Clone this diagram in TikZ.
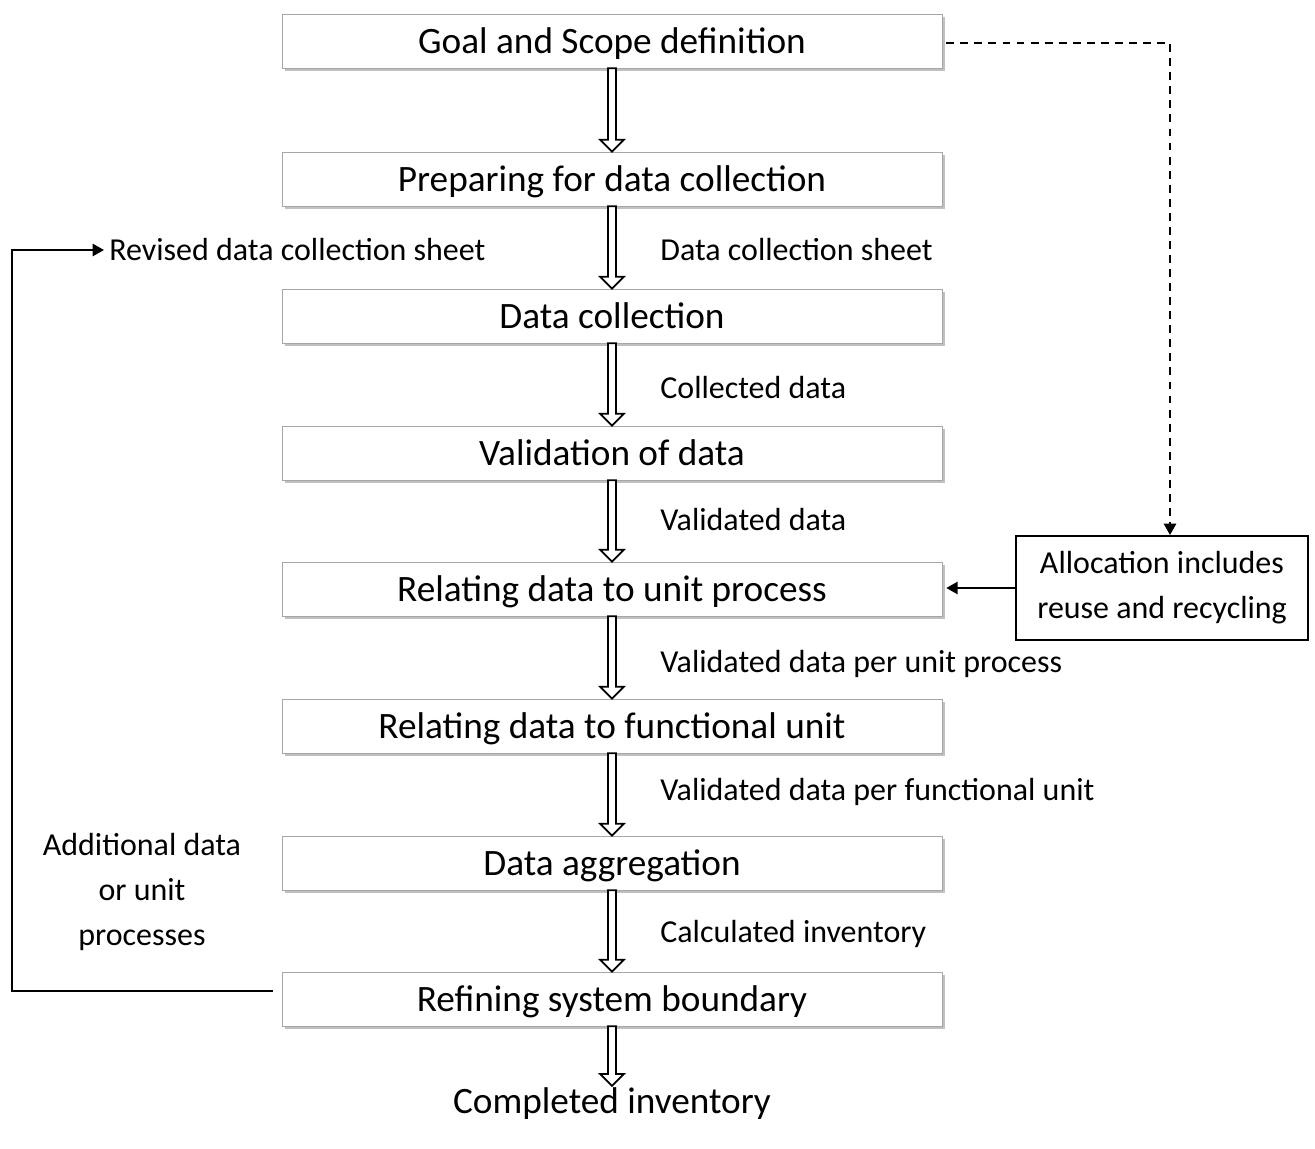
\documentclass[tikz,border=0pt]{standalone}
\usepackage{fontspec}
\setmainfont{Carlito}
\usetikzlibrary{calc,positioning,shadows,arrows.meta}

\begin{document}
\begin{tikzpicture}[x=0.02cm,y=-0.02cm,
  stage/.style={draw=black!35, fill=white, minimum width=13.2cm, minimum height=1.08cm,
    inner sep=0pt, text height=18pt, text depth=3.8pt, font=\fontsize{21.2}{24}\selectfont,
    drop shadow={shadow xshift=1.5pt, shadow yshift=-1.8pt, opacity=.45, fill=black!55}},
  note/.style={inner sep=0pt, font=\fontsize{18.2}{25.5}\selectfont},
  hollow/.style={line width=1pt, fill=white, line join=miter},
  line/.style={line width=1.1pt, -{Triangle[length=6.5pt,width=7pt]}}]
\useasboundingbox (0,0) rectangle (1315,1149);

% main chain
\node [stage] (goal)    at (612,41)  {Goal and Scope definition};
\node [stage] (prep)    at (612,179) {Preparing for data collection};
\node [stage] (collect) at (612,316) {Data collection};
\node [stage] (valid)   at (612,453) {Validation of data};
\node [stage] (relunit) at (612,589) {Relating data to unit process};
\node [stage] (relfunc) at (612,726) {Relating data to functional unit};
\node [stage] (aggr)    at (612,863) {Data aggregation};
\node [stage] (refine)  at (612,999) {Refining system boundary};
\node [inner sep=1pt, font=\fontsize{21.2}{24}\selectfont] (done) at (612,1104) {Completed inventory};

% hollow arrows
\foreach \a/\b in {goal/prep,prep/collect,collect/valid,valid/relunit,relunit/relfunc,relfunc/aggr,aggr/refine,refine/done}
  \draw [hollow] ($(\a.south)+(-4,0)$) -- ($(\b.north)+(-4,-12)$) -- ++(-8,0) -- (\b.north)
    -- ($(\b.north)+(12,-12)$) -- ++(-8,0) -- ($(\a.south)+(4,0)$) -- cycle;

% labels on the chain
\node [note, anchor=west] (sheet)  at (660,250) {Data collection sheet};
\node [note, anchor=west] (colld)  at (660,388) {Collected data};
\node [note, anchor=west] (vald)   at (660,520) {Validated data};
\node [note, anchor=west] (valup)  at (660,664) {Validated data per unit process};
\node [note, anchor=west] (valfu)  at (660,792) {Validated data per functional unit};
\node [note, anchor=west] (calc)   at (660,934) {Calculated inventory};

% allocation
\node [note, draw, line width=1.1pt, minimum width=5.84cm, minimum height=2.08cm, align=center] (alloc)
  at (1162,588) {Allocation includes\\reuse and recycling};
\draw [line, dashed, dash pattern=on 4.5pt off 3.5pt] ($(goal.east)+(4,2)$) -| ($(alloc.north)+(8,0)$);
\draw [line] (alloc.west) -- ($(alloc.west -| relunit.east)+(4,0)$);

% feedback loop
\node [note, anchor=west] (revised) at (109,250) {Revised data collection sheet};
\node [note, align=center] (extra) at (142,892) {Additional data\\or unit\\processes};
\coordinate (loop) at ($(refine.west)+(-9,-8)$);
\draw [line] (loop) -- (12,991) |- ($(revised.west)+(-5,0)$);
\end{tikzpicture}
\end{document}
